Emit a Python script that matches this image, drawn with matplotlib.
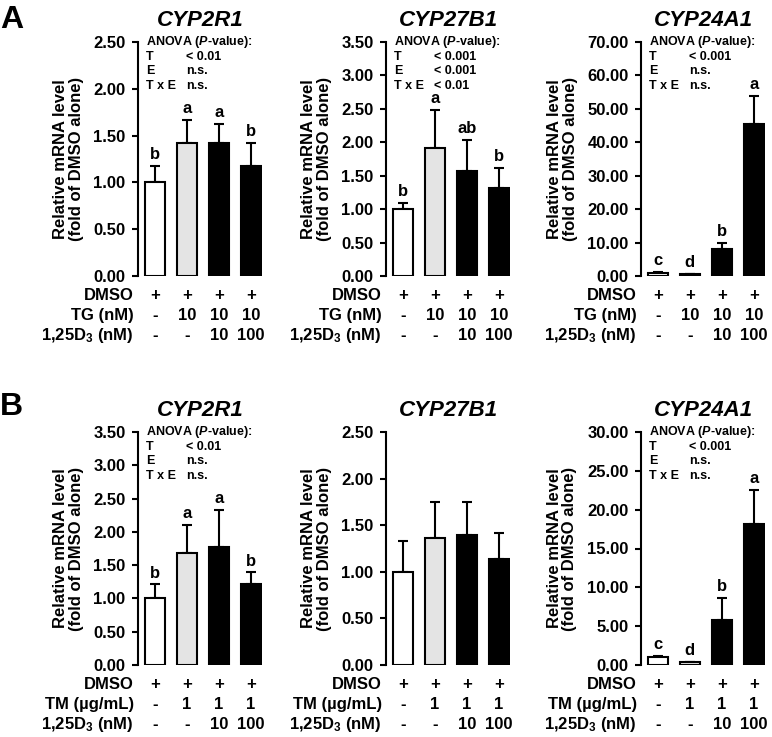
import numpy as np
import matplotlib
matplotlib.use('Agg')
import matplotlib.pyplot as plt

plt.rcParams['font.family'] = ['Liberation Sans', 'DejaVu Sans']
plt.rcParams['font.weight'] = 'bold'
plt.rcParams['axes.labelweight'] = 'bold'
plt.rcParams['axes.titleweight'] = 'bold'
plt.rcParams['mathtext.fontset'] = 'custom'
plt.rcParams['mathtext.rm'] = 'Liberation Sans:bold'
plt.rcParams['mathtext.bf'] = 'Liberation Sans:bold'
plt.rcParams['mathtext.it'] = 'Liberation Sans:bold:italic'

GENES = ['CYP2R1', 'CYP27B1', 'CYP24A1']
FILLS = ['white', '#e4e4e4', 'black', 'black']
ANOVA_TERMS = ['T', 'E', 'T x E']

# panel A: thapsigargin
A_MEAN = [[1.00, 1.42, 1.42, 1.17], [1.00, 1.91, 1.57, 1.31], [1.00, 0.45, 8.00, 45.60]]
A_ERR = [[0.18, 0.25, 0.20, 0.25], [0.09, 0.57, 0.46, 0.30], [0.30, 0.15, 1.80, 8.20]]
A_LETTERS = [['b', 'a', 'a', 'b'], ['b', 'a', 'ab', 'b'], ['c', 'd', 'b', 'a']]
A_ANOVA = [['< 0.01', 'n.s.', 'n.s.'], ['< 0.001', '< 0.001', '< 0.01'], ['< 0.001', 'n.s.', 'n.s.']]
A_YMAX = [2.5, 3.5, 70]
A_YSTEP = [0.5, 0.5, 10]
A_ROWS = ['DMSO', 'TG (nM)', r'1,25D$_3$ (nM)']
A_COLS = [['+', '+', '+', '+'], ['-', '10', '10', '10'], ['-', '-', '10', '100']]

# panel B: tunicamycin
B_MEAN = [[1.00, 1.68, 1.77, 1.22], [1.00, 1.36, 1.39, 1.135], [1.00, 0.35, 5.75, 18.20]]
B_ERR = [[0.21, 0.43, 0.56, 0.17], [0.33, 0.39, 0.36, 0.28], [0.15, 0.10, 2.85, 4.30]]
B_LETTERS = [['b', 'a', 'a', 'b'], None, ['c', 'd', 'b', 'a']]
B_ANOVA = [['< 0.01', 'n.s.', 'n.s.'], None, ['< 0.001', 'n.s.', 'n.s.']]
B_YMAX = [3.5, 2.5, 30]
B_YSTEP = [0.5, 0.5, 5]
B_ROWS = ['DMSO', 'TM (µg/mL)', r'1,25D$_3$ (nM)']
B_COLS = [['+', '+', '+', '+'], ['-', '1', '1', '1'], ['-', '-', '10', '100']]

W, H = 772, 737
AX_LEFT = [138, 386, 641]
AX_W = 124
ROW_BOX = {'A': (42, 276), 'B': (432, 665)}


def panel(ax, gene, mean, err, letters, anova, ymax, ystep, rows, cols):
    x = np.arange(4)
    ax.errorbar(x, mean, yerr=[np.zeros(4), err], fmt='none', ecolor='black',
                elinewidth=1.5, capsize=3.6, capthick=1.5, zorder=1)
    ax.bar(x, mean, width=0.625, color=FILLS, edgecolor='black', linewidth=1.5, zorder=2)
    ax.set_xlim(-0.53, 3.35); ax.set_ylim(0, ymax)
    ax.set_yticks(np.arange(0, ymax + ystep / 2, ystep))
    ax.yaxis.set_major_formatter(matplotlib.ticker.FormatStrFormatter('%.2f'))
    ax.set_xticks([])
    for s in ['top', 'right', 'bottom']: ax.spines[s].set_visible(False)
    ax.spines['left'].set_linewidth(1.5)
    ax.tick_params(axis='y', direction='out', length=4, width=1.5, pad=5, labelsize=12)
    ax.set_ylabel('Relative mRNA level\n(fold of DMSO alone)', fontsize=12, fontweight='bold',
                  labelpad=7, linespacing=1.05)
    ax.set_title(gene, fontsize=16, fontstyle='italic', fontweight='bold', pad=11.5)
    if letters:
        for xi, m, e, l in zip(x, mean, err, letters):
            ax.annotate(l, (xi, m + e), xytext=(0, 5), textcoords='offset points',
                        ha='center', va='baseline', fontsize=12)
    if anova:
        ax.annotate(r'ANOVA ($\mathit{P}$-value):', (0, 1), xycoords='axes fraction', xytext=(5.8, 0),
                    textcoords='offset points', ha='left', va='center', fontsize=9)
        for i, (t, v) in enumerate(zip(ANOVA_TERMS, anova)):
            dy = -10.5 * (i + 1)
            ax.annotate(t, (0, 1), xycoords='axes fraction', xytext=(5.8, dy),
                        textcoords='offset points', ha='left', va='center', fontsize=9)
            ax.annotate(v, (0, 1), xycoords='axes fraction', xytext=(34.5, dy),
                        textcoords='offset points', ha='left', va='center', fontsize=9)
    tr = ax.get_xaxis_transform()
    for r, (lab, vals) in enumerate(zip(rows, cols)):
        dy = -(17 + 14.4 * r)
        ax.annotate(lab, (0, 0), xycoords='axes fraction', xytext=(-3, dy), textcoords='offset points',
                    ha='right', va='baseline', fontsize=12, annotation_clip=False)
        for xi, v in zip(x, vals):
            ax.annotate(v, (xi, 0), xycoords=tr, xytext=(0, dy), textcoords='offset points',
                        ha='center', va='baseline', fontsize=12, annotation_clip=False)


fig = plt.figure(figsize=(W / 100, H / 100), dpi=100)
for key, means, errs, lets, anovas, ymaxs, steps, rows, cols in [
        ('A', A_MEAN, A_ERR, A_LETTERS, A_ANOVA, A_YMAX, A_YSTEP, A_ROWS, A_COLS),
        ('B', B_MEAN, B_ERR, B_LETTERS, B_ANOVA, B_YMAX, B_YSTEP, B_ROWS, B_COLS)]:
    top, bot = ROW_BOX[key]
    for j in range(3):
        ax = fig.add_axes([AX_LEFT[j] / W, 1 - bot / H, AX_W / W, (bot - top) / H])
        panel(ax, GENES[j], means[j], errs[j], lets[j], anovas[j], ymaxs[j], steps[j], rows, cols)
    fig.text(0.0, 1 - (28 if key == 'A' else 415) / H, key, fontsize=23, fontweight='bold', va='baseline')

fig.savefig('out.png', dpi=100)
